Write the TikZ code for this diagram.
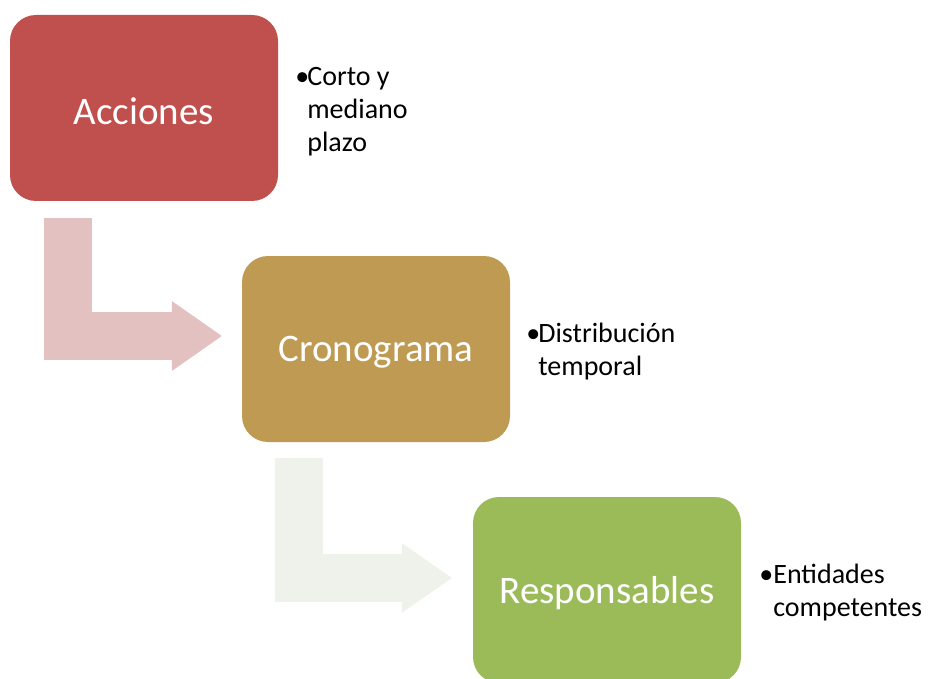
\documentclass[tikz,border=0pt]{standalone}
\usepackage{fontspec}
\setmainfont{Carlito}
\usepackage{tikz}
\usetikzlibrary{arrows.meta,calc}

\definecolor{accred}{HTML}{C0504D}
\definecolor{crogold}{HTML}{BE9A53}
\definecolor{resgreen}{HTML}{9BBB59}
\definecolor{bendred}{HTML}{E3C1C1}
\definecolor{bendgreen}{HTML}{EFF2EA}

\newcommand{\bulletlist}[2][-1pt]{%
  \begin{tabular}{@{}l@{\hspace{#1}}l@{}}#2\end{tabular}}

\begin{document}
\begin{tikzpicture}[x=1pt,y=-1pt,
    box/.style={rounded corners=26pt, minimum width=268pt, minimum height=186pt,
      inner sep=0pt, text=white, font=\fontsize{39}{47}\selectfont},
    boxtext/.style={text=white, font=\fontsize{39}{47}\selectfont},
    note/.style={anchor=west, inner sep=0pt, font=\fontsize{28}{33}\selectfont},
    bentarrow/.style={line width=48pt,
      -{Triangle[length=50pt,width=70pt,line width=0pt]}}]
  \useasboundingbox (0,0) rectangle (929,679);

  % boxes
  \node[box, fill=accred] (acc) at (144,108) {};
  \node[box, fill=crogold] (cro) at (376,349) {};
  \node[box, fill=resgreen] (res) at (607,590) {};
  \node[boxtext] (acclabel) at ($(acc.center)+(0,3)$) {Acciones};
  \node[boxtext] (crolabel) at ($(cro.center)+(0,3)$) {Cronograma};
  \node[boxtext] (reslabel) at ($(res.center)+(0,3)$) {Responsables};

  % bent arrows
  \draw[bentarrow, bendred] ($(acc.south west)+(58,17)$) |- ($(cro.west)+(-20,-13)$);
  \draw[bentarrow, bendgreen] ($(cro.south west)+(57,16)$) |- ($(res.west)+(-21,-12)$);

  % labels
  \node[note] (accnote) at ($(acc.east)+(17,4)$)
    {\bulletlist[-2pt]{\textbullet & Corto y\\ & mediano\\ & plazo}};
  \node[note] (cronote) at ($(cro.east)+(16,3)$)
    {\bulletlist[-2pt]{\textbullet & Distribución\\ & temporal}};
  \node[note] (resnote) at ($(res.east)+(18,3)$)
    {\bulletlist[0pt]{\textbullet & Entidades\\ & competentes}};
\end{tikzpicture}
\end{document}
